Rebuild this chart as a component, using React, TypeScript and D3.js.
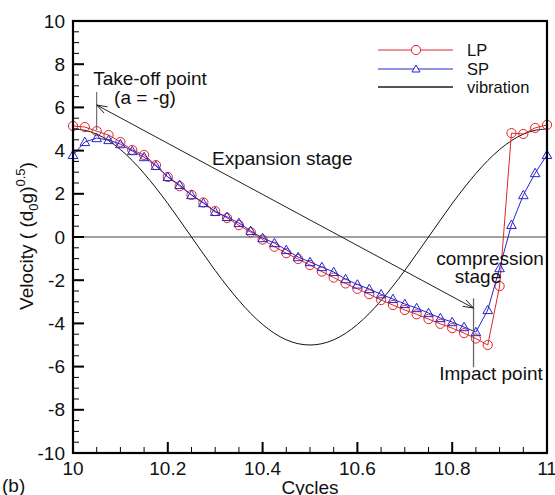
import React from "react";
import * as d3 from "d3";

const T0 = 10;
const STEP = 0.025;

const lpValues = [
  5.14, 5.09, 4.9, 4.72, 4.4, 4.03, 3.8, 3.33, 2.78, 2.35,
  1.95, 1.6, 1.2, 0.88, 0.55, 0.22, -0.12, -0.45, -0.75, -1.02,
  -1.3, -1.6, -1.88, -2.15, -2.4, -2.65, -2.92, -3.15, -3.38, -3.58,
  -3.8, -4.02, -4.22, -4.45, -4.7, -5.0, -2.27, 4.81, 4.77, 5.05, 5.19,
];

const spValues = [
  3.8, 4.4, 4.58, 4.49, 4.3, 3.98, 3.7, 3.29, 2.78, 2.41,
  1.94, 1.57, 1.16, 0.93, 0.65, 0.28, -0.05, -0.28, -0.6, -0.93,
  -1.16, -1.39, -1.62, -1.95, -2.2, -2.41, -2.65, -2.87, -3.1, -3.29,
  -3.52, -3.75, -3.94, -4.17, -4.4, -3.38, -1.44, 0.56, 1.94, 2.96, 3.8,
];

const vibrationValues = [
  5.0, 4.94, 4.76, 4.46, 4.05, 3.54, 2.94, 2.27, 1.55, 0.78,
  0.0, -0.78, -1.55, -2.27, -2.94, -3.54, -4.05, -4.46, -4.76, -4.94,
  -5.0, -4.94, -4.76, -4.46, -4.05, -3.54, -2.94, -2.27, -1.55, -0.78,
  0.0, 0.78, 1.55, 2.27, 2.94, 3.54, 4.05, 4.46, 4.76, 4.94, 5.0,
];

const xTicks = [10, 10.2, 10.4, 10.6, 10.8, 11];
const xTickLabels = ["10", "10.2", "10.4", "10.6", "10.8", "11"];
const yTicks = [-10, -8, -6, -4, -2, 0, 2, 4, 6, 8, 10];
const yTickLabels = ["-10", "-8", "-6", "-4", "-2", "0", "2", "4", "6", "8", "10"];

const legendNames = ["LP", "SP", "vibration"];

const takeoff = { t: 10.05, v: 6.11, lineTop: 6.71, lineBottom: 4.95 };
const impact = { t: 10.845, v: -3.29, lineTop: -2.84, lineBottom: -6.03 };

const W = 555;
const H = 495;
const L = 73, R = 547, TOP = 21, BOT = 453;

const RED = "#e0262a";
const BLUE = "#2525cc";
const FONT = "'Liberation Sans', Arial, Helvetica, sans-serif";

export default function App() {
  const x = d3.scaleLinear().domain([10, 11]).range([L, R]);
  const y = d3.scaleLinear().domain([-10, 10]).range([BOT, TOP]);

  const toPts = (vals: number[]) => vals.map((v, i) => [T0 + i * STEP, v] as [number, number]);
  const lp = toPts(lpValues);
  const sp = toPts(spValues);
  const vib = toPts(vibrationValues);

  const line = d3.line<[number, number]>().x((d) => x(d[0])).y((d) => y(d[1]));
  const smooth = d3
    .line<[number, number]>()
    .x((d) => x(d[0]))
    .y((d) => y(d[1]))
    .curve(d3.curveCatmullRom);

  const xMinor = d3.range(10, 11.0001, 0.05).filter((t) => !xTicks.some((m) => Math.abs(m - t) < 1e-6));
  const yMinor = d3.range(-10, 10.0001, 0.5).filter((v) => !yTicks.some((m) => Math.abs(m - v) < 1e-6));

  const tri = (cx: number, cy: number, s = 4.8) =>
    `M${cx},${cy - s} L${cx + s},${cy + s * 0.75} L${cx - s},${cy + s * 0.75} Z`;

  const arrowHead = (tipX: number, tipY: number, fromX: number, fromY: number, len = 11, ang = 0.33) => {
    const a = Math.atan2(fromY - tipY, fromX - tipX);
    const p1 = [tipX + len * Math.cos(a + ang), tipY + len * Math.sin(a + ang)];
    const p2 = [tipX + len * Math.cos(a - ang), tipY + len * Math.sin(a - ang)];
    return `M${p1[0]},${p1[1]} L${tipX},${tipY} L${p2[0]},${p2[1]}`;
  };

  const ax1 = x(takeoff.t), ay1 = y(takeoff.v);
  const ax2 = x(impact.t), ay2 = y(impact.v);

  const legendY = [50, 69, 87];

  return (
    <svg
      width={W}
      height={H}
      style={{ position: "absolute", left: 0, top: 0, background: "#fff" }}
      fontFamily={FONT}
    >
      <rect x={0} y={0} width={W} height={H} fill="#fff" />
      {/* zero line */}
      <line x1={L} x2={R} y1={y(0)} y2={y(0)} stroke="#444" strokeWidth={1} />

      {/* vibration */}
      <path d={smooth(vib) || ""} fill="none" stroke="#111" strokeWidth={1} />

      {/* LP */}
      <path d={line(lp) || ""} fill="none" stroke={RED} strokeWidth={1} />
      {lp.map((d, i) => (
        <circle key={"c" + i} cx={x(d[0])} cy={y(d[1])} r={4.6} fill="none" stroke={RED} strokeWidth={1} />
      ))}
      {/* SP */}
      <path d={line(sp) || ""} fill="none" stroke={BLUE} strokeWidth={1} />
      {sp.map((d, i) => (
        <path key={"t" + i} d={tri(x(d[0]), y(d[1]))} fill="none" stroke={BLUE} strokeWidth={1} />
      ))}

      {/* annotations */}
      <line x1={ax1} x2={ax1} y1={y(takeoff.lineTop)} y2={y(takeoff.lineBottom)} stroke="#555" strokeWidth={1} />
      <line x1={x(impact.t)} x2={x(impact.t)} y1={y(impact.lineTop)} y2={y(impact.lineBottom)} stroke="#666" strokeWidth={1.3} />
      <line x1={ax1} y1={ay1} x2={ax2} y2={ay2} stroke="#222" strokeWidth={1} />
      <path d={arrowHead(ax1, ay1, ax2, ay2)} fill="none" stroke="#222" strokeWidth={1} />
      <path d={arrowHead(ax2, ay2, ax1, ay1)} fill="none" stroke="#222" strokeWidth={1} />

      <g fontSize={19} fill="#111">
        <text x={150} y={85} textAnchor="middle">Take-off point</text>
        <text x={145} y={104} textAnchor="middle">(a = -g)</text>
        <text x={212} y={165}>Expansion stage</text>
        <text x={490} y={265} textAnchor="middle">compression</text>
        <text x={478} y={283} textAnchor="middle">stage</text>
        <text x={491} y={380} textAnchor="middle">Impact point</text>
      </g>

      {/* legend */}
      <g fontSize={16.5} fill="#111">
        <line x1={378} x2={453} y1={legendY[0]} y2={legendY[0]} stroke={RED} strokeWidth={1} />
        <circle cx={416} cy={legendY[0]} r={4.6} fill="#fff" stroke={RED} strokeWidth={1} />
        <line x1={378} x2={453} y1={legendY[1]} y2={legendY[1]} stroke={BLUE} strokeWidth={1} />
        <path d={tri(416, legendY[1], 4)} fill="#fff" stroke={BLUE} strokeWidth={1} />
        <line x1={378} x2={453} y1={legendY[2]} y2={legendY[2]} stroke="#555" strokeWidth={2} />
        {legendNames.map((n, i) => (
          <text key={n} x={467} y={legendY[i] + 6}>{n}</text>
        ))}
      </g>

      {/* ticks */}
      {xTicks.map((t) => (
        <line key={"xt" + t} x1={x(t)} x2={x(t)} y1={BOT} y2={BOT - 11} stroke="#000" strokeWidth={2} />
      ))}
      {xMinor.map((t) => (
        <line key={"xm" + t} x1={x(t)} x2={x(t)} y1={BOT} y2={BOT - 6} stroke="#000" strokeWidth={1} />
      ))}
      {yTicks.map((v) => (
        <line key={"yt" + v} x1={L} x2={L + 11} y1={y(v)} y2={y(v)} stroke="#000" strokeWidth={2} />
      ))}
      {yMinor.map((v) => (
        <line key={"ym" + v} x1={L} x2={L + 6} y1={y(v)} y2={y(v)} stroke="#000" strokeWidth={1} />
      ))}

      {/* frame */}
      <rect x={L} y={TOP} width={R - L} height={BOT - TOP} fill="none" stroke="#000" strokeWidth={2.2} />

      {/* tick labels */}
      <g fontSize={19} fill="#111">
        {xTicks.map((t, i) => (
          <text key={"xl" + t} x={x(t)} y={475} textAnchor="middle">{xTickLabels[i]}</text>
        ))}
        {yTicks.map((v, i) => (
          <text key={"yl" + v} x={65} y={y(v)} dy="0.35em" textAnchor="end">{yTickLabels[i]}</text>
        ))}
      </g>

      {/* axis titles */}
      <text x={(L + R) / 2} y={494} textAnchor="middle" fontSize={19} fill="#111">Cycles</text>
      <text x={2} y={492} fontSize={19} fill="#111">(b)</text>
      <text transform={`translate(33,236) rotate(-90)`} textAnchor="middle" fontSize={19} fill="#111">
        Velocity ( (d<tspan fontSize={13} dy={5}>0</tspan>
        <tspan dy={-5}>g)</tspan>
        <tspan fontSize={13} dy={-8}>0.5</tspan>
        <tspan dy={8}>)</tspan>
      </text>
    </svg>
  );
}
